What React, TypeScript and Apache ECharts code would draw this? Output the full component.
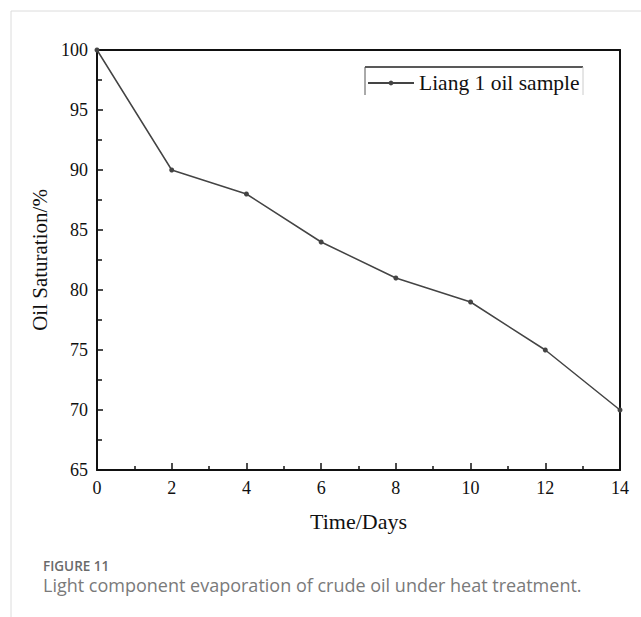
import React, { useEffect, useRef } from "react";
import * as echarts from "echarts";

const days = [0, 2, 4, 6, 8, 10, 12, 14];
const saturation = [100, 90, 88, 84, 81, 79, 75, 70];
const seriesName = "Liang 1 oil sample";
const xTitle = "Time/Days";
const yTitle = "Oil Saturation/%";
const figLabel = "FIGURE 11";
const caption = "Light component evaporation of crude oil under heat treatment.";

const serif = "'Liberation Serif', 'Times New Roman', serif";
const sans = "'Open Sans', 'Noto Sans', sans-serif";

export default function App() {
  const ref = useRef<HTMLDivElement>(null);
  useEffect(() => {
    if (!ref.current) return;
    const chart = echarts.init(ref.current, null, { renderer: "svg" });
    const data = days.map((d, i) => [d, saturation[i]]);
    chart.setOption({
      animation: false,
      backgroundColor: "#fff",
      grid: { left: 97, top: 50, width: 523, height: 420, containLabel: false },
      legend: {
        left: 367,
        top: 72,
        itemWidth: 46,
        itemHeight: 6,
        itemGap: 0,
        data: [seriesName],
        textStyle: { fontFamily: serif, fontSize: 21.5, lineHeight: 22, color: "#111" },
        padding: 0,
      },
      xAxis: [
        {
          type: "value",
          min: 0,
          max: 14,
          interval: 2,
          name: xTitle,
          nameLocation: "middle",
          nameGap: 40,
          nameTextStyle: { fontFamily: serif, fontSize: 22, color: "#111" },
          axisLine: { lineStyle: { color: "#111", width: 2 } },
          axisTick: { inside: true, length: 7, lineStyle: { color: "#111", width: 1.5 } },
          minorTick: { show: true, splitNumber: 2, length: 4, lineStyle: { color: "#111", width: 1.5 } },
          axisLabel: { fontFamily: serif, fontSize: 18, color: "#111", margin: 9 },
          splitLine: { show: false },
        },
        {
          type: "value",
          position: "top",
          min: 0,
          max: 14,
          axisLine: { show: true, onZero: false, lineStyle: { color: "#111", width: 2 } },
          axisTick: { show: false },
          axisLabel: { show: false },
          splitLine: { show: false },
        },
      ],
      yAxis: [
        {
          type: "value",
          min: 65,
          max: 100,
          interval: 5,
          name: yTitle,
          nameLocation: "middle",
          nameGap: 43,
          nameTextStyle: { fontFamily: serif, fontSize: 21, color: "#111" },
          axisLine: { show: true, lineStyle: { color: "#111", width: 2 } },
          axisTick: { show: true, inside: true, length: 6, lineStyle: { color: "#111", width: 1.5 } },
          minorTick: { show: true, splitNumber: 2, length: 5, lineStyle: { color: "#111", width: 1.5 } },
          axisLabel: { fontFamily: serif, fontSize: 18, color: "#111", margin: 9 },
          splitLine: { show: false },
        },
        {
          type: "value",
          position: "right",
          min: 65,
          max: 100,
          axisLine: { show: true, onZero: false, lineStyle: { color: "#111", width: 2 } },
          axisTick: { show: false },
          axisLabel: { show: false },
          splitLine: { show: false },
        },
      ],
      series: [
        {
          name: seriesName,
          type: "line",
          data,
          symbol: "circle",
          symbolSize: 5,
          lineStyle: { color: "#444", width: 1.5 },
          itemStyle: { color: "#444" },
        },
      ],
      graphic: [
        { type: "line", shape: { x1: 11, y1: 11, x2: 641, y2: 11 }, style: { stroke: "#dcdcdc", lineWidth: 1 } },
        { type: "line", shape: { x1: 11, y1: 11, x2: 11, y2: 617 }, style: { stroke: "#dcdcdc", lineWidth: 1 } },
        { type: "line", shape: { x1: 365, y1: 67, x2: 583, y2: 67 }, style: { stroke: "#222", lineWidth: 1.5 } },
        { type: "line", shape: { x1: 365, y1: 67, x2: 365, y2: 95 }, style: { stroke: "#555", lineWidth: 1 } },
        { type: "line", shape: { x1: 583, y1: 67, x2: 583, y2: 95 }, style: { stroke: "#ccc", lineWidth: 1 } },
        {
          type: "text",
          left: 43,
          top: 558,
          style: { text: figLabel, fontFamily: sans, fontSize: 13.5, lineHeight: 15, fontWeight: 600, fill: "#6a6a6a" },
        },
        {
          type: "text",
          left: 43,
          top: 575,
          style: { text: caption, fontFamily: sans, fontSize: 18, lineHeight: 20, fill: "#7a7a7a" },
        },
      ],
    });
    return () => chart.dispose();
  }, []);
  return (
    <div
      ref={ref}
      style={{ position: "absolute", left: 0, top: 0, width: 641, height: 617 }}
    />
  );
}
